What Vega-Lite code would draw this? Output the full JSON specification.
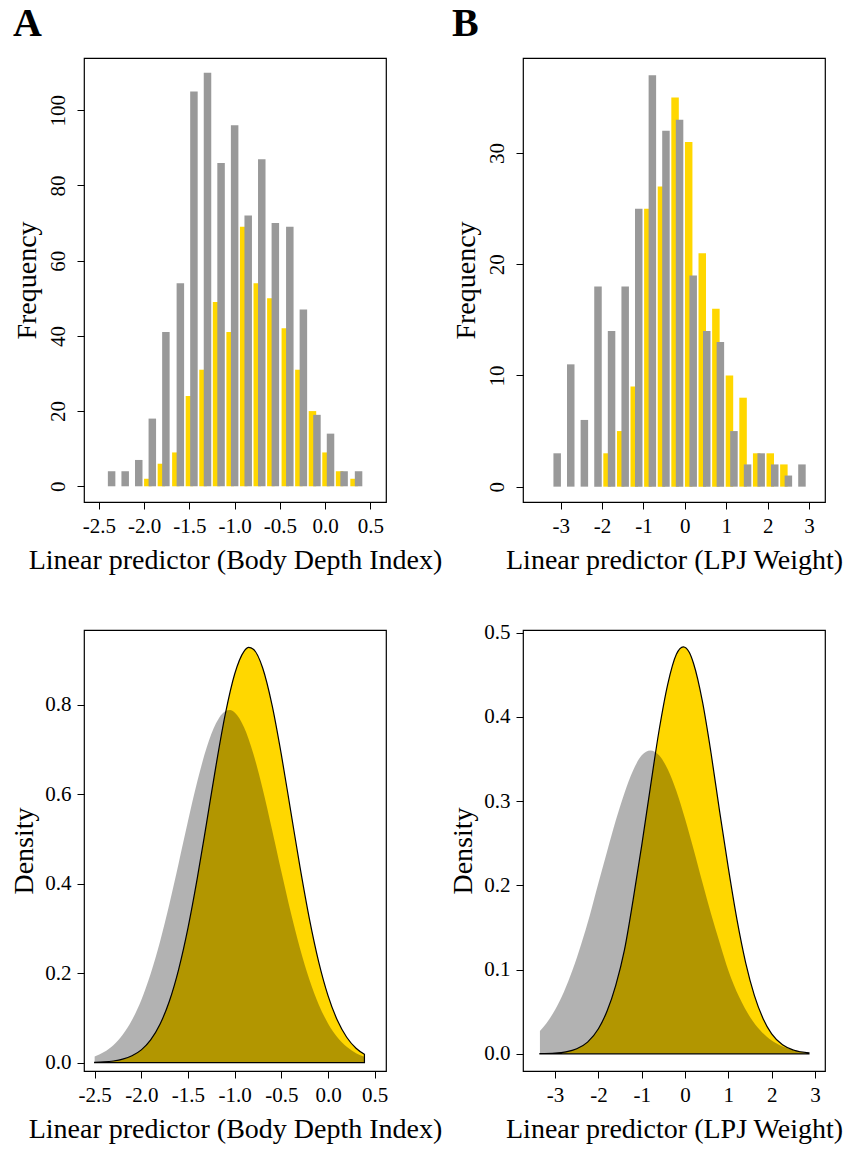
{
  "$schema": "https://vega.github.io/schema/vega-lite/v6.json",
  "background": "white",
  "padding": {"left": 10, "top": 3, "right": 5, "bottom": 5},
  "config": {
    "font": "Liberation Serif",
    "view": {"stroke": "black", "strokeWidth": 1.2},
    "axis": {"grid": false, "domain": false, "tickSize": 7, "tickColor": "black", "tickWidth": 1, "labelColor": "black", "labelFont": "Liberation Serif", "labelFontSize": 21, "titleFont": "Liberation Serif", "titleFontSize": 28, "titleFontWeight": "normal", "titleColor": "black", "labelPadding": 6, "labelFlush": false, "labelOverlap": false},
    "title": {"font": "Liberation Serif", "fontSize": 40, "fontWeight": "bold", "anchor": "start", "frame": "bounds", "color": "black", "offset": 14}
  },
  "datasets": {
    "histA": [
      {"x": -2.36, "gray": 4, "yellow": null},
      {"x": -2.21, "gray": 4, "yellow": null},
      {"x": -2.06, "gray": 7, "yellow": null},
      {"x": -1.91, "gray": 18, "yellow": 2},
      {"x": -1.76, "gray": 41, "yellow": 6},
      {"x": -1.60, "gray": 54, "yellow": 9},
      {"x": -1.45, "gray": 105, "yellow": 24},
      {"x": -1.30, "gray": 110, "yellow": 31},
      {"x": -1.15, "gray": 86, "yellow": 49},
      {"x": -1.00, "gray": 96, "yellow": 41},
      {"x": -0.85, "gray": 72, "yellow": 69},
      {"x": -0.70, "gray": 87, "yellow": 54},
      {"x": -0.55, "gray": 70, "yellow": 50},
      {"x": -0.39, "gray": 69, "yellow": 42},
      {"x": -0.24, "gray": 47, "yellow": 31},
      {"x": -0.09, "gray": 19, "yellow": 20},
      {"x": 0.06, "gray": 14, "yellow": 9},
      {"x": 0.21, "gray": 4, "yellow": 4},
      {"x": 0.37, "gray": 4, "yellow": 2}
    ],
    "histB": [
      {"x": -3.085, "gray": 3, "yellow": null},
      {"x": -2.757, "gray": 11, "yellow": null},
      {"x": -2.428, "gray": 6, "yellow": null},
      {"x": -2.099, "gray": 18, "yellow": null},
      {"x": -1.771, "gray": 14, "yellow": 3},
      {"x": -1.442, "gray": 18, "yellow": 5},
      {"x": -1.114, "gray": 25, "yellow": 9},
      {"x": -0.785, "gray": 37, "yellow": 25},
      {"x": -0.457, "gray": 32, "yellow": 27},
      {"x": -0.128, "gray": 33, "yellow": 35},
      {"x": 0.201, "gray": 19, "yellow": 31},
      {"x": 0.529, "gray": 14, "yellow": 21},
      {"x": 0.858, "gray": 13, "yellow": 16},
      {"x": 1.186, "gray": 5, "yellow": 10},
      {"x": 1.515, "gray": 2, "yellow": 8},
      {"x": 1.844, "gray": 3, "yellow": 3},
      {"x": 2.172, "gray": 2, "yellow": 3},
      {"x": 2.501, "gray": 1, "yellow": 2},
      {"x": 2.829, "gray": 2, "yellow": null}
    ],
    "densAGray": [
      {"x": -2.5, "d": 0.0137}, {"x": -2.4, "d": 0.0236}, {"x": -2.3, "d": 0.0391}, {"x": -2.2, "d": 0.0623},
      {"x": -2.1, "d": 0.0953}, {"x": -2.0, "d": 0.1403}, {"x": -1.9, "d": 0.1987}, {"x": -1.8, "d": 0.2704},
      {"x": -1.7, "d": 0.3541}, {"x": -1.6, "d": 0.4458}, {"x": -1.5, "d": 0.5399}, {"x": -1.4, "d": 0.6288},
      {"x": -1.3, "d": 0.7042}, {"x": -1.2, "d": 0.7584}, {"x": -1.1, "d": 0.7856}, {"x": -1.05, "d": 0.788},
      {"x": -1.0, "d": 0.7825},
      {"x": -0.9, "d": 0.7496}, {"x": -0.8, "d": 0.6905}, {"x": -0.7, "d": 0.6118}, {"x": -0.6, "d": 0.5213},
      {"x": -0.5, "d": 0.4271}, {"x": -0.4, "d": 0.3366}, {"x": -0.3, "d": 0.2551}, {"x": -0.2, "d": 0.1859},
      {"x": -0.1, "d": 0.1303}, {"x": 0.0, "d": 0.0878}, {"x": 0.1, "d": 0.0569}, {"x": 0.2, "d": 0.0355},
      {"x": 0.3, "d": 0.0213}, {"x": 0.39, "d": 0.013}
    ],
    "densAYellow": [
      {"x": -2.5, "d": 0.0008}, {"x": -2.4, "d": 0.0017}, {"x": -2.3, "d": 0.0038}, {"x": -2.2, "d": 0.0078},
      {"x": -2.1, "d": 0.0154}, {"x": -2.0, "d": 0.0287}, {"x": -1.9, "d": 0.051}, {"x": -1.8, "d": 0.0859},
      {"x": -1.7, "d": 0.1373}, {"x": -1.6, "d": 0.2087}, {"x": -1.5, "d": 0.3012}, {"x": -1.4, "d": 0.4128},
      {"x": -1.3, "d": 0.5372}, {"x": -1.2, "d": 0.664}, {"x": -1.1, "d": 0.7793}, {"x": -1.0, "d": 0.8686},
      {"x": -0.9, "d": 0.9194}, {"x": -0.85, "d": 0.928}, {"x": -0.8, "d": 0.9242}, {"x": -0.7, "d": 0.8821}, {"x": -0.6, "d": 0.7997},
      {"x": -0.5, "d": 0.6885}, {"x": -0.4, "d": 0.5628}, {"x": -0.3, "d": 0.437}, {"x": -0.2, "d": 0.3221},
      {"x": -0.1, "d": 0.2255}, {"x": 0.0, "d": 0.15}, {"x": 0.1, "d": 0.0947}, {"x": 0.2, "d": 0.0568},
      {"x": 0.3, "d": 0.0323}, {"x": 0.39, "d": 0.0186}
    ],
    "densBGray": [
      {"x": -3.35, "d": 0.027}, {"x": -3.2, "d": 0.0363}, {"x": -3.0, "d": 0.0523}, {"x": -2.8, "d": 0.0731},
      {"x": -2.6, "d": 0.0991}, {"x": -2.4, "d": 0.1298}, {"x": -2.2, "d": 0.1643}, {"x": -2.0, "d": 0.2028},
      {"x": -1.8, "d": 0.2402}, {"x": -1.6, "d": 0.2768}, {"x": -1.4, "d": 0.3093}, {"x": -1.2, "d": 0.3362},
      {"x": -1.0, "d": 0.3543}, {"x": -0.8, "d": 0.36}, {"x": -0.6, "d": 0.3543}, {"x": -0.4, "d": 0.3378},
      {"x": -0.2, "d": 0.3119}, {"x": 0.0, "d": 0.2789}, {"x": 0.2, "d": 0.2422}, {"x": 0.4, "d": 0.2036},
      {"x": 0.6, "d": 0.1663}, {"x": 0.8, "d": 0.1318}, {"x": 1.0, "d": 0.099}, {"x": 1.25, "d": 0.0674},
      {"x": 1.5, "d": 0.0437}, {"x": 1.75, "d": 0.027}, {"x": 2.0, "d": 0.0158}, {"x": 2.25, "d": 0.0088},
      {"x": 2.5, "d": 0.0047}, {"x": 2.86, "d": 0.0017}
    ],
    "densBYellow": [
      {"x": -3.35, "d": 0.0002}, {"x": -3.0, "d": 0.0008}, {"x": -2.75, "d": 0.0023}, {"x": -2.5, "d": 0.006},
      {"x": -2.25, "d": 0.0139}, {"x": -2.0, "d": 0.0297}, {"x": -1.8, "d": 0.0508}, {"x": -1.6, "d": 0.0813},
      {"x": -1.4, "d": 0.1230}, {"x": -1.2, "d": 0.1823}, {"x": -1.0, "d": 0.2474}, {"x": -0.8, "d": 0.3166},
      {"x": -0.6, "d": 0.3837}, {"x": -0.4, "d": 0.4386}, {"x": -0.2, "d": 0.4742}, {"x": -0.04, "d": 0.483},
      {"x": 0.1, "d": 0.4762}, {"x": 0.2, "d": 0.4626}, {"x": 0.4, "d": 0.4185}, {"x": 0.6, "d": 0.3570}, {"x": 0.8, "d": 0.2871},
      {"x": 1.0, "d": 0.2203}, {"x": 1.2, "d": 0.1589}, {"x": 1.4, "d": 0.1080}, {"x": 1.6, "d": 0.0694},
      {"x": 1.8, "d": 0.0420}, {"x": 2.0, "d": 0.0236}, {"x": 2.25, "d": 0.0107}, {"x": 2.5, "d": 0.0045},
      {"x": 2.86, "d": 0.0011}
    ]
  },
  "columns": 2,
  "bounds": "flush",
  "spacing": {"row": 128, "column": 137},
  "concat": [
    {
      "title": {"text": "A"},
      "width": 302,
      "height": 444,
      "data": {"name": "histA"},
      "layer": [
        {
          "mark": {"type": "bar", "color": "#FFD700", "size": 7.5, "xOffset": -4.5},
          "encoding": {
            "x": {"field": "x", "type": "quantitative", "scale": {"domain": [-2.61, 0.618], "nice": false, "zero": false},
              "axis": {"values": [-2.5, -2, -1.5, -1, -0.5, 0, 0.5], "format": ".1f", "labelExpr": "replace(datum.label, '−', '-')", "title": "Linear predictor (Body Depth Index)", "titlePadding": 10}},
            "y": {"field": "yellow", "type": "quantitative", "scale": {"domain": [-4.18, 113.9], "nice": false, "zero": false},
              "axis": {"values": [0, 20, 40, 60, 80, 100], "labelAngle": 270, "labelAlign": "center", "labelBaseline": "bottom", "labelPadding": 9, "title": "Frequency", "titlePadding": 6}}
          }
        },
        {
          "mark": {"type": "bar", "color": "#999999", "size": 7.5},
          "encoding": {
            "x": {"field": "x", "type": "quantitative"},
            "y": {"field": "gray", "type": "quantitative"}
          }
        }
      ]
    },
    {
      "title": {"text": "B"},
      "width": 302,
      "height": 444,
      "data": {"name": "histB"},
      "layer": [
        {
          "mark": {"type": "bar", "color": "#FFD700", "size": 7.5, "xOffset": -4.5},
          "encoding": {
            "x": {"field": "x", "type": "quantitative", "scale": {"domain": [-3.79, 3.265], "nice": false, "zero": false},
              "axis": {"values": [-3, -2, -1, 0, 1, 2, 3], "format": "d", "labelExpr": "replace(datum.label, '−', '-')", "title": "Linear predictor (LPJ Weight)", "titlePadding": 10}},
            "y": {"field": "yellow", "type": "quantitative", "scale": {"domain": [-1.38, 38.55], "nice": false, "zero": false},
              "axis": {"values": [0, 10, 20, 30], "labelAngle": 270, "labelAlign": "center", "labelBaseline": "bottom", "labelPadding": 9, "title": "Frequency", "titlePadding": 6}}
          }
        },
        {
          "mark": {"type": "bar", "color": "#999999", "size": 7.5},
          "encoding": {
            "x": {"field": "x", "type": "quantitative"},
            "y": {"field": "gray", "type": "quantitative"}
          }
        }
      ]
    },
    {
      "width": 302,
      "height": 441,
      "layer": [
        {
          "data": {"name": "densAYellow"},
          "mark": {"type": "area", "color": "#FFD700", "stroke": "black", "strokeWidth": 1.2, "interpolate": "monotone"},
          "encoding": {
            "x": {"field": "x", "type": "quantitative", "scale": {"domain": [-2.614, 0.621], "nice": false, "zero": false},
              "axis": {"values": [-2.5, -2, -1.5, -1, -0.5, 0, 0.5], "format": ".1f", "labelExpr": "replace(datum.label, '−', '-')", "title": "Linear predictor (Body Depth Index)", "titlePadding": 10}},
            "y": {"field": "d", "type": "quantitative", "scale": {"domain": [-0.0186, 0.967], "nice": false, "zero": false},
              "axis": {"values": [0, 0.2, 0.4, 0.6, 0.8], "format": ".1f", "title": "Density", "titlePadding": 6}}
          }
        },
        {
          "data": {"name": "densAGray"},
          "mark": {"type": "area", "color": "black", "opacity": 0.3, "interpolate": "monotone"},
          "encoding": {
            "x": {"field": "x", "type": "quantitative"},
            "y": {"field": "d", "type": "quantitative"}
          }
        }
      ]
    },
    {
      "width": 302,
      "height": 441,
      "layer": [
        {
          "data": {"name": "densBYellow"},
          "mark": {"type": "area", "color": "#FFD700", "stroke": "black", "strokeWidth": 1.2, "interpolate": "monotone"},
          "encoding": {
            "x": {"field": "x", "type": "quantitative", "scale": {"domain": [-3.741, 3.231], "nice": false, "zero": false},
              "axis": {"values": [-3, -2, -1, 0, 1, 2, 3], "format": "d", "labelExpr": "replace(datum.label, '−', '-')", "title": "Linear predictor (LPJ Weight)", "titlePadding": 10}},
            "y": {"field": "d", "type": "quantitative", "scale": {"domain": [-0.0204, 0.503], "nice": false, "zero": false},
              "axis": {"values": [0, 0.1, 0.2, 0.3, 0.4, 0.5], "format": ".1f", "title": "Density", "titlePadding": 6}}
          }
        },
        {
          "data": {"name": "densBGray"},
          "mark": {"type": "area", "color": "black", "opacity": 0.3, "interpolate": "monotone"},
          "encoding": {
            "x": {"field": "x", "type": "quantitative"},
            "y": {"field": "d", "type": "quantitative"}
          }
        }
      ]
    }
  ]
}
